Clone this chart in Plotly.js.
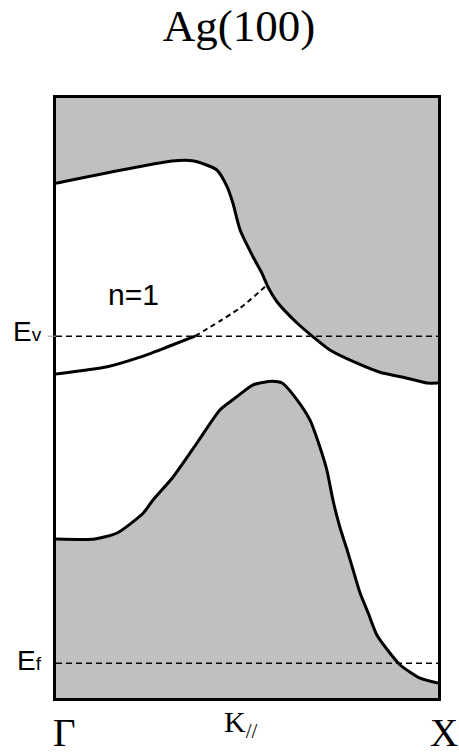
<!DOCTYPE html>
<html>
<head>
<meta charset="utf-8">
<script src="https://cdn.plot.ly/plotly-3.0.1.min.js"></script>
<style>
  html, body { margin: 0; padding: 0; background: #fff; }
  #chart { width: 459px; height: 753px; }
</style>
</head>
<body>
<div id="chart"></div>
<script>
// Surface-projected bulk band structure of Ag(100) along Γ–X.
// k_parallel runs from Γ (0) to X (1); energy is in arbitrary units.
const K_MIN = 0, K_MAX = 1;
const E_MIN = 0, E_MAX = 100;

// Vacuum level and Fermi level
const E_VAC = 60.3;
const E_FERMI = 5.8;

// Lower edge of the upper projected bulk band
const upperBandK = [0, 0.304, 0.361, 0.421, 0.448, 0.463, 0.482, 0.516, 0.539, 0.555, 0.579, 0.631, 0.673, 0.717, 0.788, 0.848, 0.919, 0.971, 1];
const upperBandE = [85.8, 89.5, 89.5, 88.0, 85.2, 82.5, 78.0, 73.5, 70.8, 68.5, 66.0, 62.5, 60.2, 58.0, 55.8, 54.3, 53.3, 52.5, 52.5];

// Upper edge of the lower projected bulk band
const lowerBandK = [0, 0.102, 0.160, 0.228, 0.254, 0.306, 0.369, 0.429, 0.463, 0.516, 0.565, 0.592, 0.631, 0.665, 0.691, 0.709, 0.725, 0.743, 0.762, 0.783, 0.796, 0.817, 0.840, 0.874, 0.901, 0.953, 1];
const lowerBandE = [26.5, 26.5, 27.5, 30.8, 33.0, 36.8, 42.5, 48.0, 49.7, 52.2, 52.8, 52.5, 49.7, 46.3, 41.8, 38.0, 33.0, 28.5, 24.7, 20.2, 17.5, 14.2, 10.5, 7.5, 5.5, 3.3, 2.5];

// n=1 image-potential state: bound part and resonance continuation above E_vac
const imageStateK = [0, 0.134, 0.220, 0.291, 0.364];
const imageStateE = [54.0, 55.2, 56.8, 58.5, 60.3];
const imageResK = [0.364, 0.482, 0.552];
const imageResE = [60.3, 65.0, 68.8];

const BAND_FILL = '#c0c0c0';
const INK = '#000000';

const traces = [
  // shaded upper band (closed along the top of the frame)
  {
    x: upperBandK.concat([K_MAX, K_MIN]),
    y: upperBandE.concat([E_MAX, E_MAX]),
    mode: 'lines', fill: 'toself', fillcolor: BAND_FILL,
    line: { width: 0, color: BAND_FILL }, hoverinfo: 'skip'
  },
  // shaded lower band (down to the bottom of the frame)
  {
    x: lowerBandK.concat([K_MAX, K_MIN]),
    y: lowerBandE.concat([E_MIN, E_MIN]),
    mode: 'lines', fill: 'toself', fillcolor: BAND_FILL,
    line: { width: 0, color: BAND_FILL }, hoverinfo: 'skip'
  },
  // vacuum and Fermi level reference lines
  {
    x: [K_MIN, K_MAX], y: [E_VAC, E_VAC], mode: 'lines',
    line: { color: INK, width: 1.5, dash: '6px,4px' }
  },
  {
    x: [K_MIN, K_MAX], y: [E_FERMI, E_FERMI], mode: 'lines',
    line: { color: INK, width: 1.5, dash: '6px,4px' }
  },
  // band edges
  {
    x: upperBandK, y: upperBandE, mode: 'lines',
    line: { color: INK, width: 3, shape: 'spline', smoothing: 0.6 }
  },
  {
    x: lowerBandK, y: lowerBandE, mode: 'lines',
    line: { color: INK, width: 3, shape: 'spline', smoothing: 0.6 }
  },
  // image-potential state
  {
    x: imageStateK, y: imageStateE, mode: 'lines',
    line: { color: INK, width: 3, shape: 'spline', smoothing: 0.6 }
  },
  {
    x: imageResK, y: imageResE, mode: 'lines',
    line: { color: INK, width: 2, dash: '5px,4px', shape: 'spline', smoothing: 0.6 }
  }
];

const SERIF = 'Liberation Serif, Times New Roman, serif';
const SANS = 'Liberation Sans, Arial, sans-serif';

const layout = {
  width: 459, height: 753,
  margin: { l: 56, r: 21, t: 98, b: 55, pad: 0 },
  paper_bgcolor: '#ffffff', plot_bgcolor: '#ffffff',
  showlegend: false,
  title: {
    text: 'Ag(100)',
    font: { family: SERIF, size: 45, color: INK },
    xref: 'paper', x: 0.479, xanchor: 'center',
    yref: 'container', y: 0.967, yanchor: 'middle'
  },
  xaxis: {
    range: [K_MIN, K_MAX], showgrid: false, zeroline: false,
    showticklabels: false, ticks: '',
    showline: true, mirror: true, linecolor: INK, linewidth: 3
  },
  yaxis: {
    range: [E_MIN, E_MAX], showgrid: false, zeroline: false,
    showticklabels: false, ticks: '',
    showline: true, mirror: true, linecolor: INK, linewidth: 3
  },
  shapes: [
    // short tick marking the vacuum level on the energy axis
    { type: 'line', xref: 'paper', yref: 'y', x0: -0.022, x1: 0, y0: E_VAC, y1: E_VAC,
      line: { color: '#999999', width: 1 } }
  ],
  annotations: [
    { text: 'n=1', xref: 'x', yref: 'y', x: 0.202, y: 67.3, showarrow: false,
      xanchor: 'center', yanchor: 'middle', font: { family: SANS, size: 30, color: INK } },
    { text: 'E<span style="font-size:19px">v</span>', xref: 'paper', yref: 'y',
      x: -0.032, y: E_VAC, yshift: 5, showarrow: false, xanchor: 'right', yanchor: 'middle',
      font: { family: SANS, size: 28, color: INK } },
    { text: 'E<span style="font-size:19px">f</span>', xref: 'paper', yref: 'y',
      x: -0.032, y: E_FERMI, yshift: 3, showarrow: false, xanchor: 'right', yanchor: 'middle',
      font: { family: SANS, size: 28, color: INK } },
    { text: 'Γ', xref: 'paper', yref: 'paper', x: 0.021, y: -0.058, showarrow: false,
      xanchor: 'center', yanchor: 'middle', font: { family: SERIF, size: 39, color: INK } },
    { text: 'X', xref: 'paper', yref: 'paper', x: 1.015, y: -0.058, showarrow: false,
      xanchor: 'center', yanchor: 'middle', font: { family: SERIF, size: 39, color: INK } },
    { text: 'K<sub>//</sub>', xref: 'paper', yref: 'paper', x: 0.484, y: -0.043, showarrow: false,
      xanchor: 'center', yanchor: 'middle', font: { family: SERIF, size: 30, color: INK } }
  ]
};

Plotly.newPlot('chart', traces, layout, { staticPlot: true, displayModeBar: false });
</script>
</body>
</html>
